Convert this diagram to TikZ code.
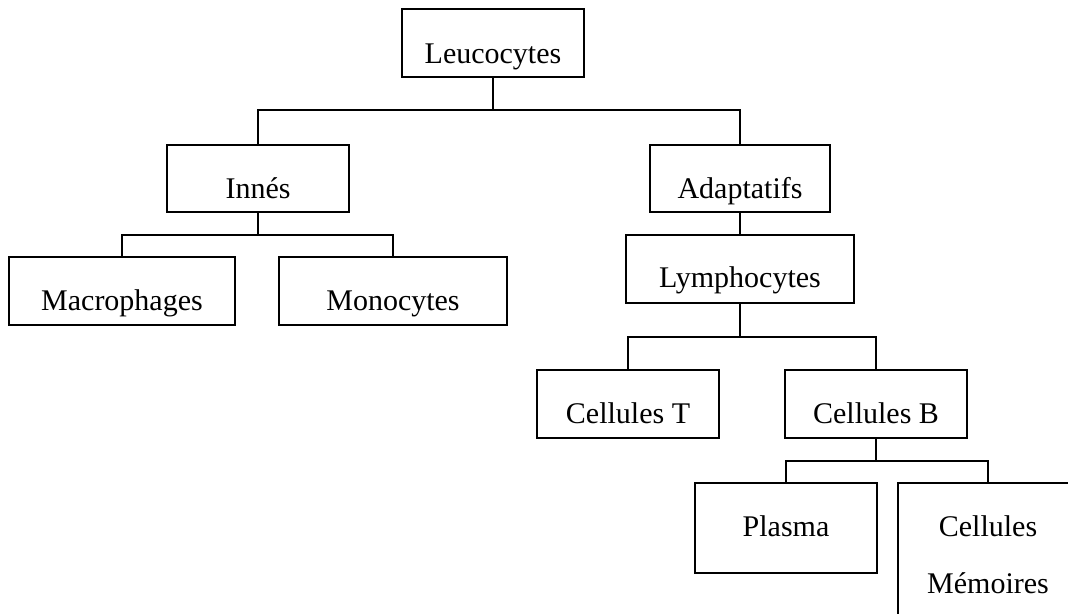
\documentclass[tikz,border=0pt]{standalone}
\usepackage{fontspec}
\setmainfont{Liberation Serif}
\begin{document}
\begin{tikzpicture}[x=1pt,y=-1pt,
  box/.style={draw, line width=1.8pt, inner sep=0pt},
  lbl/.style={anchor=base, inner sep=0pt, font=\fontsize{30}{36}\selectfont},
  link/.style={line width=1.8pt}]
\useasboundingbox (0,0) rectangle (1068,613);
\clip (0,0) rectangle (1068,613);

% boxes
\node[box, minimum width=182pt, minimum height=68pt] (leu) at (493,43) {};
\node[box, minimum width=182pt, minimum height=67pt] (inn) at (258,178.5) {};
\node[box, minimum width=180pt, minimum height=67pt] (ada) at (740,178.5) {};
\node[box, minimum width=226pt, minimum height=68pt] (mac) at (122,291) {};
\node[box, minimum width=228pt, minimum height=68pt] (mon) at (393,291) {};
\node[box, minimum width=228pt, minimum height=68pt] (lym) at (740,269) {};
\node[box, minimum width=182pt, minimum height=68pt] (celt) at (628,404) {};
\node[box, minimum width=182pt, minimum height=68pt] (celb) at (876,404) {};
\node[box, minimum width=182pt, minimum height=90pt] (pla) at (786,528) {};
\node[box, minimum width=180pt, minimum height=147pt] (mem) at (988,556.5) {};

% labels
\node[lbl] (tleu) at (493,63) {Leucocytes};
\node[lbl] (tinn) at (258,198) {Innés};
\node[lbl] (tada) at (740,198) {Adaptatifs};
\node[lbl] (tmac) at (122,310) {Macrophages};
\node[lbl] (tmon) at (393,310) {Monocytes};
\node[lbl] (tlym) at (740,287) {Lymphocytes};
\node[lbl] (tcelt) at (628,423) {Cellules T};
\node[lbl] (tcelb) at (876,423) {Cellules B};
\node[lbl] (tpla) at (786,536) {Plasma};
\node[lbl] (tmem1) at (988,536) {Cellules};
\node[lbl] (tmem2) at (988,593) {Mémoires};

% junctions
\coordinate (j1) at (493,110);
\coordinate (j2) at (258,235);
\coordinate (j3) at (740,337);
\coordinate (j4) at (876,461);

% connectors
\draw[link] (leu.south) -- (j1);
\draw[link] (inn.north) |- (j1) -| (ada.north);
\draw[link] (inn.south) -- (j2);
\draw[link] (mac.north) |- (j2) -| (mon.north);
\draw[link] (ada.south) -- (lym.north);
\draw[link] (lym.south) -- (j3);
\draw[link] (celt.north) |- (j3) -| (celb.north);
\draw[link] (celb.south) -- (j4);
\draw[link] (pla.north) |- (j4) -| (mem.north);
\end{tikzpicture}
\end{document}
